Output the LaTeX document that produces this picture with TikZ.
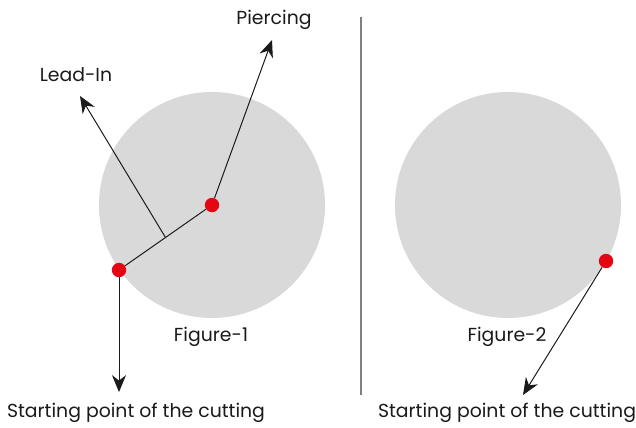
\documentclass[tikz,border=0pt]{standalone}
\usepackage{fontspec}
\setmainfont{Poppins}
\usepackage{tikz}
\usetikzlibrary{arrows.meta,calc}
\definecolor{DiskGray}{HTML}{D9D9D9}
\definecolor{DotRed}{HTML}{E30613}
\definecolor{InkBlack}{HTML}{1A1A1A}

\tikzset{
  disk/.style={circle, fill=DiskGray, minimum size=5.65cm, inner sep=0pt},
  dot/.style={circle, fill=DotRed, minimum size=0.36cm, inner sep=0pt},
  pointer/.style={draw=InkBlack, line width=0.7pt, -{Stealth[length=12pt, width=10pt]}},
  label/.style={text=InkBlack, font=\fontsize{13.4}{15}\selectfont, inner sep=0pt}
}

\begin{document}
\begin{tikzpicture}[x=0.025cm, y=-0.025cm]
          \useasboundingbox (0,0) rectangle (636,427);
          % figure 1
          \node[disk] (disk1) at (212,205) {};
          \node[dot] (pierce) at (212,205) {};
          \node[dot] (start1) at (119,270) {};
          \coordinate (mid) at ($(start1)!0.5!(pierce)$);
          \coordinate (piercetip) at (272,40);
          \coordinate (leadtip) at (80,96);
          \coordinate (start1tip) at (119,392);
          \draw[InkBlack, line width=0.7pt] (start1) -- (pierce);
          \draw[pointer] (pierce) -- (piercetip);
          \draw[pointer] (mid) -- (leadtip);
          \draw[pointer] (start1) -- (start1tip);
          \node[label] (piercelbl) at (274,20) {Piercing};
          \node[label] (leadlbl) at (76,75) {Lead-In};
          \node[label] (fig1) at (211,337) {Figure-1};
          \node[label] (start1lbl) at (136,413) {Starting point of the cutting};
          % divider
          \coordinate (divtop) at (361,17);
          \coordinate (divbot) at (361,395);
          \draw[gray, line width=0.8pt] (divtop) -- (divbot);
          % figure 2
          \node[disk] (disk2) at (508,205) {};
          \node[dot] (start2) at (606,261) {};
          \coordinate (start2tip) at (523,395);
          \draw[pointer] (start2) -- (start2tip);
          \node[label] (fig2) at (507,337) {Figure-2};
          \node[label] (start2lbl) at (507,413) {Starting point of the cutting};
        \end{tikzpicture}
\end{document}
